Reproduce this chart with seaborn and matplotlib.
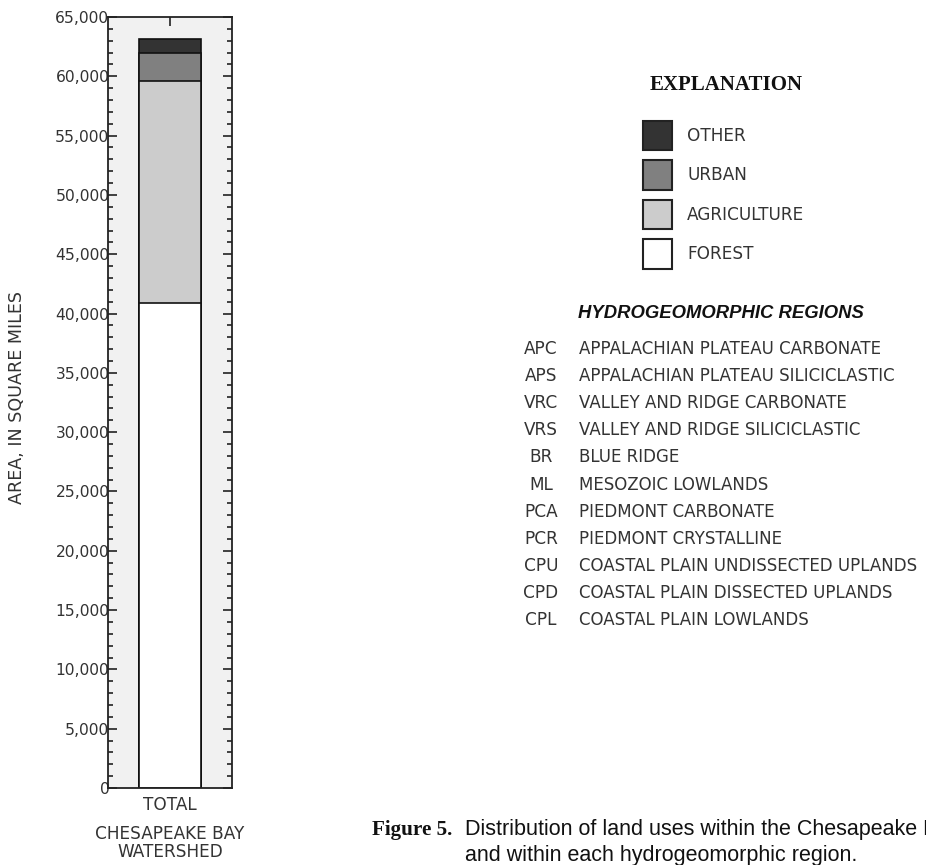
import numpy as np
import pandas as pd
import matplotlib.pyplot as plt
from matplotlib.patches import Patch
import seaborn as sns

# land use areas, square miles
land_uses = ["FOREST", "AGRICULTURE", "URBAN", "OTHER"]
areas = [40850, 18750, 2350, 1180]
colors = ["#ffffff", "#cccccc", "#808080", "#333333"]
bar_label = "TOTAL"

region_codes = ["APC", "APS", "VRC", "VRS", "BR", "ML", "PCA", "PCR", "CPU", "CPD", "CPL"]
region_names = [
    "APPALACHIAN PLATEAU CARBONATE",
    "APPALACHIAN PLATEAU SILICICLASTIC",
    "VALLEY AND RIDGE CARBONATE",
    "VALLEY AND RIDGE SILICICLASTIC",
    "BLUE RIDGE",
    "MESOZOIC LOWLANDS",
    "PIEDMONT CARBONATE",
    "PIEDMONT CRYSTALLINE",
    "COASTAL PLAIN UNDISSECTED UPLANDS",
    "COASTAL PLAIN DISSECTED UPLANDS",
    "COASTAL PLAIN LOWLANDS",
]

df = pd.DataFrame({"use": land_uses, "area": areas, "color": colors})
df["top"] = df["area"].cumsum()
df["x"] = bar_label

sns.set_style("ticks")
plt.rcParams["font.family"] = ["DejaVu Sans"]
txt = "#333333"
fs = 12.2

W, H = 926, 865
fig = plt.figure(figsize=(W / 100, H / 100), dpi=100)
ax = fig.add_axes([108 / W, 1 - 788 / H, 124 / W, (788 - 17) / H])
ax.set_facecolor("#f1f1f1")

# stacked bar: draw cumulative tops from the largest down
for _, row in df.iloc[::-1].iterrows():
    sns.barplot(data=row.to_frame().T, x="x", y="top", color=row["color"],
                edgecolor="#111111", linewidth=1.2, width=0.5, saturation=1,
                ax=ax)

ax.set_ylim(0, 65000)
ax.set_xlim(-0.5, 0.5)
ax.set_yticks(np.arange(0, 65001, 5000))
ax.set_yticks(np.arange(0, 65001, 1000), minor=True)
ax.yaxis.set_major_formatter(plt.FuncFormatter(lambda v, p: f"{int(v):,}"))
ax.tick_params(which="both", direction="in", top=True, right=True,
               color="#222222", width=1.2, labelsize=11.2, labelcolor=txt, pad=-1)
ax.tick_params(which="major", length=6.5)
ax.tick_params(which="minor", length=3.6)
ax.tick_params(axis="x", which="minor", top=False, bottom=False)
ax.tick_params(axis="x", labelsize=fs, pad=6)
for s in ax.spines.values():
    s.set_visible(True)
    s.set_linewidth(1.3)
    s.set_color("#222222")

ax.set_ylabel("AREA, IN SQUARE MILES", fontsize=fs + 0.4, color=txt)
ax.yaxis.set_label_coords((26 - 108) / 124, (788 - 397) / (788 - 17))
ax.set_xlabel("CHESAPEAKE BAY\nWATERSHED", fontsize=fs, color=txt,
              labelpad=8, linespacing=1.0)

# explanation
fig.text(726 / W, 1 - 85 / H, "EXPLANATION", family="Liberation Serif",
         weight="bold", fontsize=15, ha="center", va="center", color="#111111")
handles = [Patch(facecolor=c, edgecolor="#222222", linewidth=1.5)
           for c in colors[::-1]]
fpx = fs * 100 / 72
fig.legend(handles, land_uses[::-1], loc="upper left",
           bbox_to_anchor=(643 / W, 1 - 121 / H), frameon=False,
           borderpad=0, borderaxespad=0, fontsize=fs, labelcolor=txt,
           handlelength=29 / fpx, handleheight=2.3, labelspacing=10 / fpx,
           handletextpad=0.9)

fig.text(721 / W, 1 - 313 / H, "HYDROGEOMORPHIC REGIONS",
         family="Liberation Sans", weight="bold", style="italic",
         fontsize=13.3, ha="center", va="center", color="#111111")
for i, (code, name) in enumerate(zip(region_codes, region_names)):
    y = 1 - (349 + 27.1 * i) / H
    fig.text(541 / W, y, code, fontsize=fs, ha="center", va="center", color=txt)
    fig.text(579 / W, y, name, fontsize=fs - 0.2, ha="left", va="center", color=txt)

# caption
fig.text(372 / W, 1 - 830 / H, "Figure 5.", family="Liberation Serif",
         weight="bold", fontsize=15.2, ha="left", va="center", color="#111111")
fig.text(465 / W, 1 - 830 / H, "Distribution of land uses within the Chesapeake Bay watershed",
         family="Liberation Sans", fontsize=15.5, ha="left", va="center", color="#111111")
fig.text(465 / W, 1 - 855 / H, "and within each hydrogeomorphic region.",
         family="Liberation Sans", fontsize=15.5, ha="left", va="center", color="#111111")

fig.savefig("out.png", dpi=100)
